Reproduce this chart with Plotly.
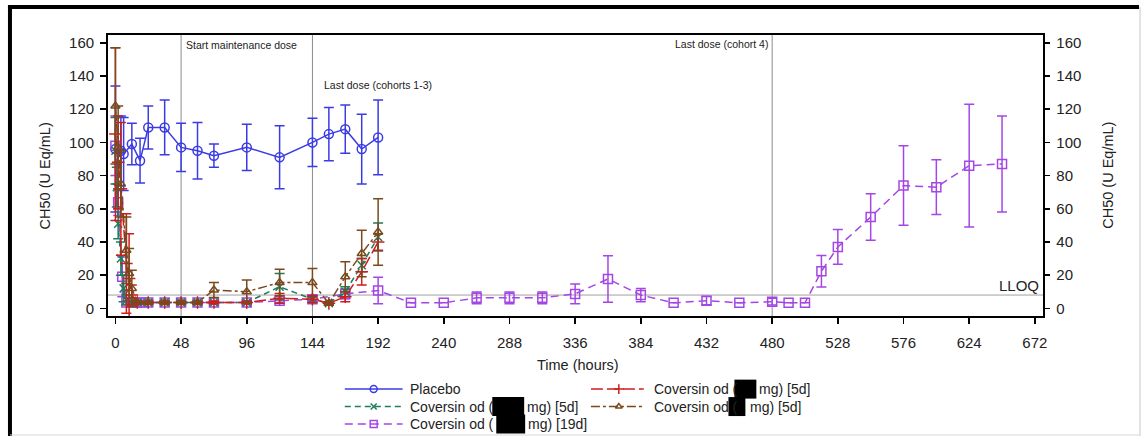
import plotly.graph_objects as go

W, H = 1147, 436

# ---------------- data ----------------
x_ticks = [0, 48, 96, 144, 192, 240, 288, 336, 384, 432, 480, 528, 576, 624, 672]
y_ticks = [0, 20, 40, 60, 80, 100, 120, 140, 160]

placebo_t = [0, 4, 6, 12, 18, 24, 36, 48, 60, 72, 96, 120, 144, 156, 168, 180, 192]
placebo_v = [96, 95, 93, 99, 89, 109, 109, 97, 95, 92, 97, 91, 100, 105, 108, 96, 103]
placebo_e = [38, 21, 22, 12.5, 13.5, 13, 16.5, 14.5, 17, 7, 14, 19, 14.5, 16, 14.5, 21, 22.5]

red_t = [0, 2, 4, 8, 10, 12, 16, 24, 36, 48, 60, 72, 96, 120, 144, 156, 168, 180, 192]
red_v = [105, 88, 72, 27, 18, 8, 3.5, 3.5, 3.5, 3.5, 3.5, 3.5, 3.5, 6, 5.5, 3, 7, 22, 40]
red_e = [52, 28, 40, 30, 27, 6, 1, 0.8, 0.8, 0.8, 0.8, 0.8, 0.8, 3, 2, 1, 3, 8, 5]

green_t = [0, 1, 2, 4, 6, 8, 12, 16, 24, 36, 48, 60, 72, 96, 120, 144, 156, 168, 180, 192]
green_v = [95, 73, 51, 30, 12, 5, 3.5, 3.5, 3.5, 3.5, 3.5, 3.5, 3.5, 3.5, 13, 5.5, 3, 10, 26, 43]
green_e = [20, 12, 9, 10, 8, 3, 1, 0.8, 0.8, 0.8, 0.8, 0.8, 0.8, 0.8, 8, 2, 1, 3, 4, 8.5]

brown_t = [0, 2, 4, 8, 10, 12, 16, 24, 36, 48, 60, 72, 96, 120, 144, 156, 168, 180, 192]
brown_v = [122, 97, 75, 35, 21, 12, 3.5, 3.5, 3.5, 3.5, 3.5, 11, 10, 15.5, 15.5, 3, 19, 33, 46]
brown_e = [35, 25, 20, 20, 15, 11, 1, 0.8, 0.8, 0.8, 0.8, 4.5, 7, 8, 8.5, 1, 9, 14, 20]

purple_t = [0, 2, 5, 8, 12, 16, 20, 24, 36, 48, 60, 72, 96, 120, 144, 168, 192, 216, 240,
            264, 288, 312, 336, 360, 384, 408, 432, 456, 480, 492, 504, 516, 528, 552,
            576, 600, 624, 648]
purple_v = [98, 64, 19, 3.5, 3.5, 3.5, 3.5, 3.5, 3.5, 3.5, 3.5, 3.5, 3.5, 4.5, 5.5, 8.7,
            10.7, 3.3, 3.3, 6.3, 6.3, 6.3, 8.7, 17.7, 8, 3.3, 4.6, 3.3, 4, 3.3, 3.3, 22.3,
            37, 55, 74, 73, 86, 87]
purple_e = [18, 8, 12, 1, 0.8, 0.8, 0.8, 0.8, 0.8, 0.8, 0.8, 0.8, 0.8, 1, 1, 3, 8, None,
            None, 3.5, 3.5, 3.5, 6, 14, 4, None, 2.5, None, 2, None, None, 9.5, 10.5, 14,
            24, 16.5, 37, 29]

dose_lines = [48, 144, 480]
dose_labels = ["Start maintenance dose", "Last dose (cohorts 1-3)", "Last dose (cohort 4)"]
lloq = 8

# ---------------- styling ----------------
FONT = "Liberation Sans, Arial, sans-serif"
C_BLUE = "#3b3be6"
C_RED = "#d01c1c"
C_GREEN = "#1d7d5c"
C_BROWN = "#7a4a1e"
C_PURPLE = "#a446e6"

styles = {
    "placebo": dict(color=C_BLUE, dash="solid", symbol="circle-open", size=9),
    "red": dict(color=C_RED, dash="12px,4px", symbol="cross-thin-open", size=9),
    "green": dict(color=C_GREEN, dash="6px,4px", symbol="x-thin-open", size=8),
    "brown": dict(color=C_BROWN, dash="dashdot", symbol="triangle-up-open", size=8),
    "purple": dict(color=C_PURPLE, dash="8px,5px", symbol="square-open", size=9),
}

fig = go.Figure()


def add_series(t, v, e, st):
    fig.add_trace(go.Scatter(
        x=t, y=v, mode="lines+markers", showlegend=False, hoverinfo="skip",
        line=dict(color=st["color"], width=1.5, dash=st["dash"]),
        marker=dict(symbol=st["symbol"], size=st["size"], color=st["color"],
                    line=dict(color=st["color"], width=1.5)),
        error_y=dict(type="data", array=e, visible=True, color=st["color"],
                     thickness=1.5, width=5),
        xaxis="x", yaxis="y"))


add_series(placebo_t, placebo_v, placebo_e, styles["placebo"])
add_series(purple_t, purple_v, purple_e, styles["purple"])
add_series(green_t, green_v, green_e, styles["green"])
add_series(red_t, red_v, red_e, styles["red"])
add_series(brown_t, brown_v, brown_e, styles["brown"])

# hidden trace so the right-hand axis is rendered
fig.add_trace(go.Scatter(x=[0], y=[0], xaxis="x", yaxis="y2", mode="markers",
                         marker=dict(opacity=0), showlegend=False, hoverinfo="skip"))

# ---------------- geometry ----------------
PL, PR, PT, PB = 108, 1047, 34, 316  # plot area in pixels

shapes = []
annotations = []

# dose reference lines and LLOQ line
for d in dose_lines:
    shapes.append(dict(type="line", xref="x", yref="y domain", x0=d, x1=d, y0=0, y1=1,
                       line=dict(color="#8c8c8c", width=1), layer="below"))
shapes.append(dict(type="line", xref="x domain", yref="y", x0=0, x1=1, y0=lloq, y1=lloq,
                   line=dict(color="#a0a0a0", width=1), layer="below"))

# outer frame (pixel space)
shapes.append(dict(type="line", xref="x3", yref="y3", x0=10, x1=10, y0=4, y1=436,
                   line=dict(color="black", width=4)))
shapes.append(dict(type="line", xref="x3", yref="y3", x0=8, x1=1143, y0=6, y1=6,
                   line=dict(color="black", width=4)))
shapes.append(dict(type="line", xref="x3", yref="y3", x0=1144, x1=1144, y0=6, y1=436,
                   line=dict(color="#c8c8c8", width=1)))
shapes.append(dict(type="line", xref="x3", yref="y3", x0=10, x1=1144, y0=435, y1=435,
                   line=dict(color="#d8d8d8", width=1)))

# annotations in the plot
annotations.append(dict(xref="x3", yref="y3", x=185, y=44, text=dose_labels[0], showarrow=False,
                        xanchor="left", yanchor="middle", font=dict(size=10.5, color="#222")))
annotations.append(dict(xref="x3", yref="y3", x=323, y=84, text=dose_labels[1], showarrow=False,
                        xanchor="left", yanchor="middle", font=dict(size=10.5, color="#222")))
annotations.append(dict(xref="x3", yref="y3", x=773, y=43, text=dose_labels[2], showarrow=False,
                        xanchor="right", yanchor="middle", font=dict(size=10.5, color="#222")))
annotations.append(dict(xref="x3", yref="y3", x=1045, y=285, text="LLOQ", showarrow=False,
                        xanchor="right", yanchor="middle", font=dict(size=15, color="#222")))

# axis titles
annotations.append(dict(xref="x3", yref="y3", x=45, y=175, text="CH50 (U Eq/mL)", textangle=-90,
                        showarrow=False, font=dict(size=14.5, color="#222")))
annotations.append(dict(xref="x3", yref="y3", x=1111, y=175, text="CH50 (U Eq/mL)", textangle=-90,
                        showarrow=False, font=dict(size=14.5, color="#222")))
annotations.append(dict(xref="x3", yref="y3", x=580, y=365, text="Time (hours)",
                        showarrow=False, font=dict(size=14.5, color="#222")))

# ---------------- legend (manual) ----------------
rows = [389, 406.5, 424]
legend_entries = [
    # key, sample x0, x1, marker x, row y, text x, prefix, redaction box, suffix x, suffix
    ("placebo", 346, 404, 375, rows[0], 409, "Placebo", None, None, None),
    ("red", 593, 646, 621, rows[0], 654, "Coversin od (", (737, 759), 760, "mg) [5d]"),
    ("green", 346, 404, 375, rows[1], 409, "Coversin od (", (494, 526), 527, "mg) [5d]"),
    ("brown", 593, 646, 621, rows[1], 654, "Coversin od (", (731, 748), 751, "mg) [5d]"),
    ("purple", 346, 404, 375, rows[2], 409, "Coversin od (", (498, 527), 528, "mg) [19d]"),
]
for key, lx0, lx1, mx, ry, tx, prefix, box, sx, suffix in legend_entries:
    st = styles[key]
    fig.add_trace(go.Scatter(x=[lx0, lx1], y=[ry, ry], xaxis="x3", yaxis="y3", mode="lines",
                             line=dict(color=st["color"], width=1.5, dash=st["dash"]),
                             showlegend=False, hoverinfo="skip"))
    fig.add_trace(go.Scatter(x=[mx], y=[ry], xaxis="x3", yaxis="y3", mode="markers",
                             marker=dict(symbol=st["symbol"], size=st["size"] - 2, color=st["color"],
                                         line=dict(color=st["color"], width=1.5)),
                             showlegend=False, hoverinfo="skip"))
    annotations.append(dict(xref="x3", yref="y3", x=tx, y=ry, text=prefix, showarrow=False,
                            xanchor="left", yanchor="middle",
                            font=dict(size=14, color="#222")))
    if box is not None:
        shapes.append(dict(type="rect", xref="x3", yref="y3", x0=box[0], x1=box[1],
                           y0=ry - 9.5, y1=ry + 9.5, fillcolor="black", line=dict(width=0)))
        annotations.append(dict(xref="x3", yref="y3", x=sx, y=ry, text=suffix, showarrow=False,
                                xanchor="left", yanchor="middle",
                                font=dict(size=14, color="#222")))

# ---------------- layout ----------------
axis_common = dict(showgrid=False, zeroline=False, ticks="outside", ticklen=6, tickwidth=1.5,
                   tickcolor="black", tickfont=dict(size=15, color="#222", family=FONT))

fig.update_layout(
    width=W, height=H,
    margin=dict(l=0, r=0, t=0, b=0),
    paper_bgcolor="white", plot_bgcolor="rgba(0,0,0,0)",
    font=dict(family=FONT, color="#222"),
    showlegend=False,
    hovermode=False,
    xaxis=dict(domain=[PL / W, PR / W], range=[-5.7, 678.2], tickvals=x_ticks,
               showline=True, mirror=True, linecolor="black", linewidth=1.5,
               anchor="y", ticklabelstandoff=6, **axis_common),
    yaxis=dict(domain=[(H - PB) / H, (H - PT) / H], range=[-4.8, 164.8], tickvals=y_ticks,
               showline=True, mirror=True, linecolor="black", linewidth=1.5,
               anchor="x", ticklabelstandoff=3, **axis_common),
    yaxis2=dict(domain=[(H - PB) / H, (H - PT) / H], range=[-4.8, 164.8], tickvals=y_ticks,
                overlaying="y", side="right", anchor="x", showline=False,
                ticklabelstandoff=3, **axis_common),
    xaxis3=dict(domain=[0, 1], range=[0, W], visible=False, anchor="y3", fixedrange=True),
    yaxis3=dict(domain=[0, 1], range=[H, 0], visible=False, anchor="x3", fixedrange=True),
    shapes=shapes,
    annotations=annotations,
)

fig.write_html("out.html",
               config={"displayModeBar": False, "staticPlot": True},
               post_script="document.body.style.margin='0';document.body.style.overflow='hidden';")
